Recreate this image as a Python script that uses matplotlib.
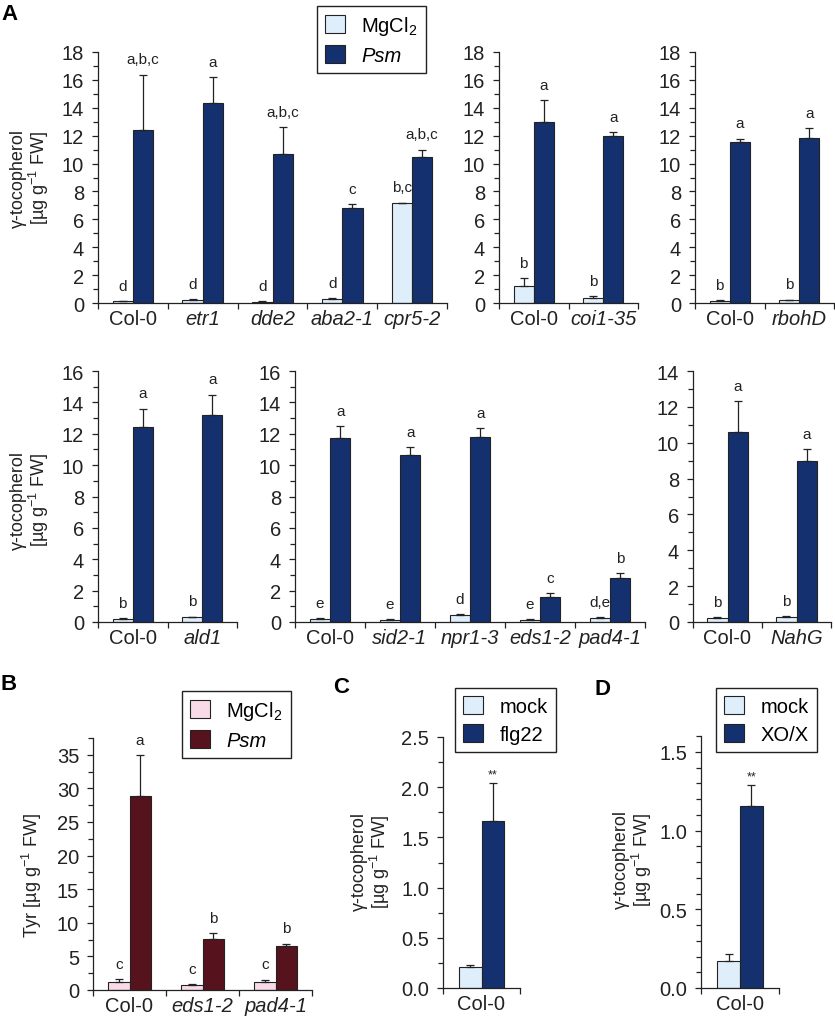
import numpy as np
import matplotlib.pyplot as plt
from matplotlib.patches import Patch
from matplotlib.ticker import MultipleLocator, FormatStrFormatter

W, H = 835, 1020

plt.rcParams['font.family'] = ['Liberation Sans', 'DejaVu Sans']
plt.rcParams['mathtext.fontset'] = 'custom'
plt.rcParams['mathtext.rm'] = 'Liberation Sans'
plt.rcParams['mathtext.it'] = 'Liberation Sans:italic'

LIGHT = '#deeefa'
NAVY = '#15306e'
PINK = '#f8dbe7'
MAROON = '#56131d'
INK = '#222222'

# ---- data: panel A, top row ----
a1_geno = ['Col-0', 'etr1', 'dde2', 'aba2-1', 'cpr5-2']
a1_mg = [0.12, 0.19, 0.1, 0.29, 7.15]
a1_mg_sd = [0.03, 0.1, 0.03, 0.07, 0.05]
a1_psm = [12.38, 14.37, 10.66, 6.81, 10.45]
a1_psm_sd = [4.0, 1.83, 1.94, 0.27, 0.55]
a1_let_mg = ['d', 'd', 'd', 'd', 'b,c']
a1_let_psm = ['a,b,c', 'a', 'a,b,c', 'c', 'a,b,c']

a2_geno = ['Col-0', 'coi1-35']
a2_mg = [1.22, 0.36]
a2_mg_sd = [0.55, 0.13]
a2_psm = [13.0, 12.0]
a2_psm_sd = [1.55, 0.27]
a2_let_mg = ['b', 'b']
a2_let_psm = ['a', 'a']

a3_geno = ['Col-0', 'rbohD']
a3_mg = [0.17, 0.19]
a3_mg_sd = [0.05, 0.06]
a3_psm = [11.58, 11.8]
a3_psm_sd = [0.2, 0.75]
a3_let_mg = ['b', 'b']
a3_let_psm = ['a', 'a']

# ---- data: panel A, bottom row ----
a4_geno = ['Col-0', 'ald1']
a4_mg = [0.2, 0.3]
a4_mg_sd = [0.05, 0.05]
a4_psm = [12.4, 13.2]
a4_psm_sd = [1.2, 1.3]
a4_let_mg = ['b', 'b']
a4_let_psm = ['a', 'a']

a5_geno = ['Col-0', 'sid2-1', 'npr1-3', 'eds1-2', 'pad4-1']
a5_mg = [0.2, 0.15, 0.45, 0.15, 0.25]
a5_mg_sd = [0.05, 0.04, 0.05, 0.03, 0.04]
a5_psm = [11.7, 10.65, 11.8, 1.6, 2.8]
a5_psm_sd = [0.8, 0.5, 0.55, 0.25, 0.3]
a5_let_mg = ['e', 'e', 'd', 'e', 'd,e']
a5_let_psm = ['a', 'a', 'a', 'c', 'b']

a6_geno = ['Col-0', 'NahG']
a6_mg = [0.25, 0.3]
a6_mg_sd = [0.03, 0.04]
a6_psm = [10.6, 9.0]
a6_psm_sd = [1.7, 0.65]
a6_let_mg = ['b', 'b']
a6_let_psm = ['a', 'a']

# ---- data: panel B (Tyr) ----
b_geno = ['Col-0', 'eds1-2', 'pad4-1']
b_mg = [1.24, 0.8, 1.19]
b_mg_sd = [0.35, 0.05, 0.35]
b_psm = [28.9, 7.65, 6.5]
b_psm_sd = [6.0, 0.8, 0.4]
b_let_mg = ['c', 'c', 'c']
b_let_psm = ['a', 'b', 'b']

# ---- data: panels C and D ----
c_geno = ['Col-0']
c_mock = [0.21]
c_mock_sd = [0.02]
c_flg = [1.66]
c_flg_sd = [0.38]

d_geno = ['Col-0']
d_mock = [0.17]
d_mock_sd = [0.045]
d_xox = [1.157]
d_xox_sd = [0.13]

fig = plt.figure(figsize=(W / 100, H / 100), dpi=100)


def px_axes(x0, x1, ytop, ybot):
    return fig.add_axes([x0 / W, 1 - ybot / H, (x1 - x0) / W, (ybot - ytop) / H])


def panel(box, genos, v1, e1, v2, e2, l1, l2, c1, c2, top, major, minor,
          fmt='%d', fs_let=11, off=6):
    ax = px_axes(*box)
    n = len(genos)
    idx = np.arange(n) + 0.5
    w = 0.29
    ekw = dict(ecolor=INK, elinewidth=0.9, capsize=3, capthick=0.9)
    ax.bar(idx - w / 2, v1, w, yerr=[np.zeros(n), e1], color=c1,
           edgecolor=INK, linewidth=0.8, error_kw=ekw)
    ax.bar(idx + w / 2, v2, w, yerr=[np.zeros(n), e2], color=c2,
           edgecolor=INK, linewidth=0.8, error_kw=ekw)
    for xs, vals, errs, labs in ((idx - w / 2, v1, e1, l1), (idx + w / 2, v2, e2, l2)):
        for x, v, e, t in zip(xs, vals, errs, labs):
            if t:
                ax.annotate(t, (x, v + e), xytext=(0, off), textcoords='offset points',
                            ha='center', va='bottom', fontsize=fs_let, color=INK)
    ax.set_xlim(0, n)
    ax.set_ylim(0, top)
    ax.set_xticks(np.arange(n + 1))
    ax.set_xticklabels([])
    ax.set_xticks(idx, minor=True)
    ax.set_xticklabels(genos, minor=True, fontsize=14.5, color=INK)
    for lab in ax.get_xticklabels(minor=True):
        if lab.get_text() != 'Col-0':
            lab.set_fontstyle('italic')
    ax.tick_params(axis='x', which='major', length=4, width=0.9, direction='out', color=INK)
    ax.tick_params(axis='x', which='minor', length=0, pad=4)
    ax.yaxis.set_major_locator(MultipleLocator(major))
    ax.yaxis.set_minor_locator(MultipleLocator(minor))
    ax.yaxis.set_major_formatter(FormatStrFormatter(fmt))
    ax.tick_params(axis='y', which='both', direction='out', width=0.9, color=INK,
                   labelsize=14.5, labelcolor=INK, pad=6)
    ax.tick_params(axis='y', which='major', length=4)
    ax.tick_params(axis='y', which='minor', length=3.5)
    for s in ('top', 'right'):
        ax.spines[s].set_visible(False)
    for s in ('left', 'bottom'):
        ax.spines[s].set_linewidth(0.9)
        ax.spines[s].set_color(INK)
    return ax


def legend(ax, labels, colors, x, y, italic_second=False):
    handles = [Patch(facecolor=c, edgecolor=INK, linewidth=0.8) for c in colors]
    leg = ax.legend(handles, labels, loc='upper left', bbox_to_anchor=(x / W, 1 - y / H),
                    bbox_transform=fig.transFigure, borderaxespad=0, fontsize=14.5,
                    frameon=True, fancybox=False, framealpha=1, edgecolor=INK,
                    handlelength=1.0, handleheight=1.0, handletextpad=0.8,
                    borderpad=0.4, labelspacing=0.4)
    leg.get_frame().set_linewidth(1.0)
    if italic_second:
        leg.get_texts()[1].set_fontstyle('italic')
    return leg


ylab = '\u03b3-tocopherol\n[\u00b5g g$^{-1}$ FW]'


def ylabel(x, y, text):
    fig.text(x / W, 1 - y / H, text, rotation=90, ha='center', va='center',
             fontsize=13, multialignment='center', linespacing=1.0, color=INK)


# ---- panel A ----
ax1 = panel((98, 447, 53, 304), a1_geno, a1_mg, a1_mg_sd, a1_psm, a1_psm_sd,
            a1_let_mg, a1_let_psm, LIGHT, NAVY, 18, 2, 1)
panel((499, 638, 53, 304), a2_geno, a2_mg, a2_mg_sd, a2_psm, a2_psm_sd,
      a2_let_mg, a2_let_psm, LIGHT, NAVY, 18, 2, 1)
panel((695, 834, 53, 304), a3_geno, a3_mg, a3_mg_sd, a3_psm, a3_psm_sd,
      a3_let_mg, a3_let_psm, LIGHT, NAVY, 18, 2, 1)
panel((98, 237, 372, 623), a4_geno, a4_mg, a4_mg_sd, a4_psm, a4_psm_sd,
      a4_let_mg, a4_let_psm, LIGHT, NAVY, 16, 2, 1)
panel((295, 645, 372, 623), a5_geno, a5_mg, a5_mg_sd, a5_psm, a5_psm_sd,
      a5_let_mg, a5_let_psm, LIGHT, NAVY, 16, 2, 1)
panel((693, 831, 372, 623), a6_geno, a6_mg, a6_mg_sd, a6_psm, a6_psm_sd,
      a6_let_mg, a6_let_psm, LIGHT, NAVY, 14, 2, 1)
legend(ax1, ['MgCl$_2$', 'Psm'], [LIGHT, NAVY], 317, 7, italic_second=True)
ylabel(30, 178, ylab)
ylabel(30, 500, ylab)

# ---- panel B ----
axb = panel((93, 312, 739, 991), b_geno, b_mg, b_mg_sd, b_psm, b_psm_sd,
            b_let_mg, b_let_psm, PINK, MAROON, 37.5, 5, 2.5)
legend(axb, ['MgCl$_2$', 'Psm'], [PINK, MAROON], 182, 692, italic_second=True)
ylabel(32, 875, 'Tyr [\u00b5g g$^{-1}$ FW]')

# ---- panel C ----
axc = panel((443, 520, 738, 989), c_geno, c_mock, c_mock_sd, c_flg, c_flg_sd,
            [''], ['**'], LIGHT, NAVY, 2.5, 0.5, 0.25, fmt='%.1f', fs_let=9, off=2)
legend(axc, ['mock', 'flg22'], [LIGHT, NAVY], 455, 689)
ylabel(371, 862, ylab)

# ---- panel D ----
axd = panel((701, 779, 737, 989), d_geno, d_mock, d_mock_sd, d_xox, d_xox_sd,
            [''], ['**'], LIGHT, NAVY, 1.6, 0.5, 0.1, fmt='%.1f', fs_let=9, off=2)
legend(axd, ['mock', 'XO/X'], [LIGHT, NAVY], 716, 689)
ylabel(633, 860, ylab)

# panel letters
for lab, x, y in (('A', 1, 4), ('B', 1, 674), ('C', 333, 677), ('D', 595, 679)):
    fig.text(x / W, 1 - y / H, lab, ha='left', va='top', fontsize=16,
             fontweight='bold', color='black')

fig.savefig('out.png', dpi=100)
